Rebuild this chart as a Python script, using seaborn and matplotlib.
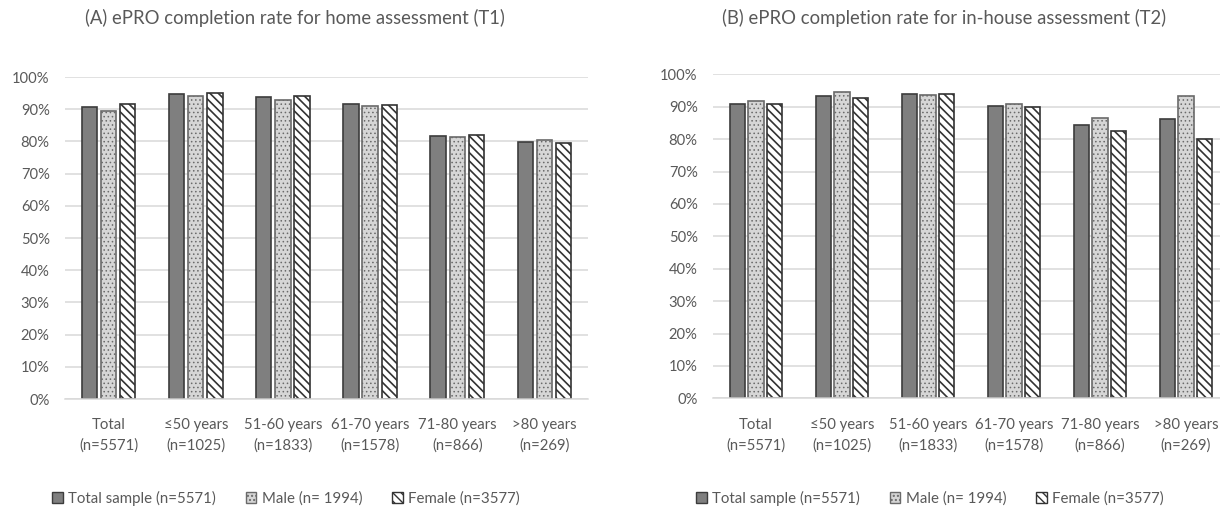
import matplotlib
matplotlib.use("Agg")
import matplotlib.pyplot as plt
from matplotlib.patches import Patch
from matplotlib.ticker import PercentFormatter
import seaborn as sns
import pandas as pd

# ---------------- data ----------------
categories = ["Total\n(n=5571)", "\u226450 years\n(n=1025)", "51-60 years\n(n=1833)",
              "61-70 years\n(n=1578)", "71-80 years\n(n=866)", ">80 years\n(n=269)"]
series = ["Total sample (n=5571)", "Male (n= 1994)", "Female (n=3577)"]

t1_total = [0.908, 0.947, 0.938, 0.916, 0.818, 0.798]
t1_male = [0.893, 0.941, 0.929, 0.911, 0.814, 0.803]
t1_female = [0.915, 0.951, 0.941, 0.914, 0.821, 0.794]

t2_total = [0.909, 0.934, 0.940, 0.903, 0.844, 0.861]
t2_male = [0.917, 0.945, 0.937, 0.909, 0.866, 0.934]
t2_female = [0.907, 0.926, 0.940, 0.898, 0.826, 0.800]

title_a = "(A) ePRO completion rate for home assessment (T1)"
title_b = "(B) ePRO completion rate for in-house assessment (T2)"


def long_df(tot, male, fem):
    rows = []
    for s, vals in zip(series, [tot, male, fem]):
        for c, v in zip(categories, vals):
            rows.append({"group": c, "series": s, "rate": v})
    return pd.DataFrame(rows)


df_a = long_df(t1_total, t1_male, t1_female)
df_b = long_df(t2_total, t2_male, t2_female)

# ---------------- style ----------------
sns.set_theme(style="white")
FONT = ["Lato", "DejaVu Sans"]
plt.rcParams["font.family"] = FONT
plt.rcParams["hatch.linewidth"] = 1.0
TXT = "#595959"
GRID = "#d9d9d9"

W, H = 1220, 511
fig = plt.figure(figsize=(W / 100, H / 100), dpi=100)
fig.patch.set_facecolor("white")

renderer = fig.canvas.get_renderer()


def fit_size(sample, target_px, base=10.0):
    t = fig.text(0, 0, sample, fontsize=base, family=FONT)
    w = t.get_window_extent(renderer).width
    t.remove()
    return base * target_px / w


fs_tick = fit_size("90%", 28.7)
fs_title = fit_size(title_a, 421)
fs_leg = fit_size("Total sample (n=5571)", 148)
fs_x = fit_size("51-60 years", 78.6)

styles = [
    dict(face="#7f7f7f", edge="#3c3c3c", hatch=None, hlw=1.0),
    dict(face="#d6d6d6", edge="#6a6a6a", hatch="....", hlw=0.6),
    dict(face="#ffffff", edge="#333333", hatch="\\\\\\\\", hlw=1.2),
]


def px_rect(x0, y0_bottom_px, w, h):
    return [x0 / W, y0_bottom_px / H, w / W, h / H]


def draw_panel(ax, df):
    sns.barplot(data=df, x="group", y="rate", hue="series", order=categories,
                hue_order=series, ax=ax, width=0.66, gap=0.2, legend=False,
                palette=[s["face"] for s in styles], saturation=1,
                linewidth=1.2, errorbar=None)
    for cont, st in zip(ax.containers, styles):
        for p in cont:
            p.set_facecolor(st["face"])
            p.set_edgecolor(st["edge"])
            p.set_linewidth(1.2)
            if st["hatch"]:
                p.set_hatch(st["hatch"])
                if hasattr(p, "set_hatch_linewidth"):
                    p.set_hatch_linewidth(st["hlw"])
    ax.set_xlim(-0.5, 5.5)
    ax.set_ylim(0, 1.0)
    ax.set_yticks([i / 10 for i in range(11)])
    ax.yaxis.set_major_formatter(PercentFormatter(1.0, decimals=0))
    ax.set_xlabel("")
    ax.set_ylabel("")
    ax.grid(axis="y", color=GRID, linewidth=1.1)
    ax.set_axisbelow(True)
    for s in ["top", "right", "left"]:
        ax.spines[s].set_visible(False)
    ax.spines["bottom"].set_color(GRID)
    ax.spines["bottom"].set_linewidth(1.1)
    ax.tick_params(axis="y", length=0, pad=11, labelsize=fs_tick, labelcolor=TXT)
    ax.tick_params(axis="x", length=0, pad=14, labelsize=fs_x, labelcolor=TXT)
    for lab in ax.get_xticklabels():
        lab.set_linespacing(1.55)
        lab.set_family(FONT)
    for lab in ax.get_yticklabels():
        lab.set_family(FONT)
    ax.set_facecolor("white")


ax_a = fig.add_axes(px_rect(65, H - 399, 523, 322))
ax_b = fig.add_axes(px_rect(713, H - 398.3, 516, 324))
draw_panel(ax_a, df_a)
draw_panel(ax_b, df_b)

fig.text(295 / W, 1 - 17.5 / H, title_a, ha="center", va="center",
         fontsize=fs_title, color=TXT, family=FONT)
fig.text(944 / W, 1 - 17.5 / H, title_b, ha="center", va="center",
         fontsize=fs_title, color=TXT, family=FONT)

handles = [Patch(facecolor=s["face"], edgecolor=s["edge"], hatch=s["hatch"],
                 linewidth=1.0) for s in styles]
for cx in (286, 930):
    fig.legend(handles=handles, labels=series, loc="center",
               bbox_to_anchor=(cx / W, 1 - 498 / H), ncol=3, frameon=False,
               handlelength=0.7, handleheight=0.7, handletextpad=0.35,
               columnspacing=2.0, prop={"family": FONT, "size": fs_leg},
               labelcolor=TXT)

fig.savefig("out.png", dpi=100, facecolor="white")
